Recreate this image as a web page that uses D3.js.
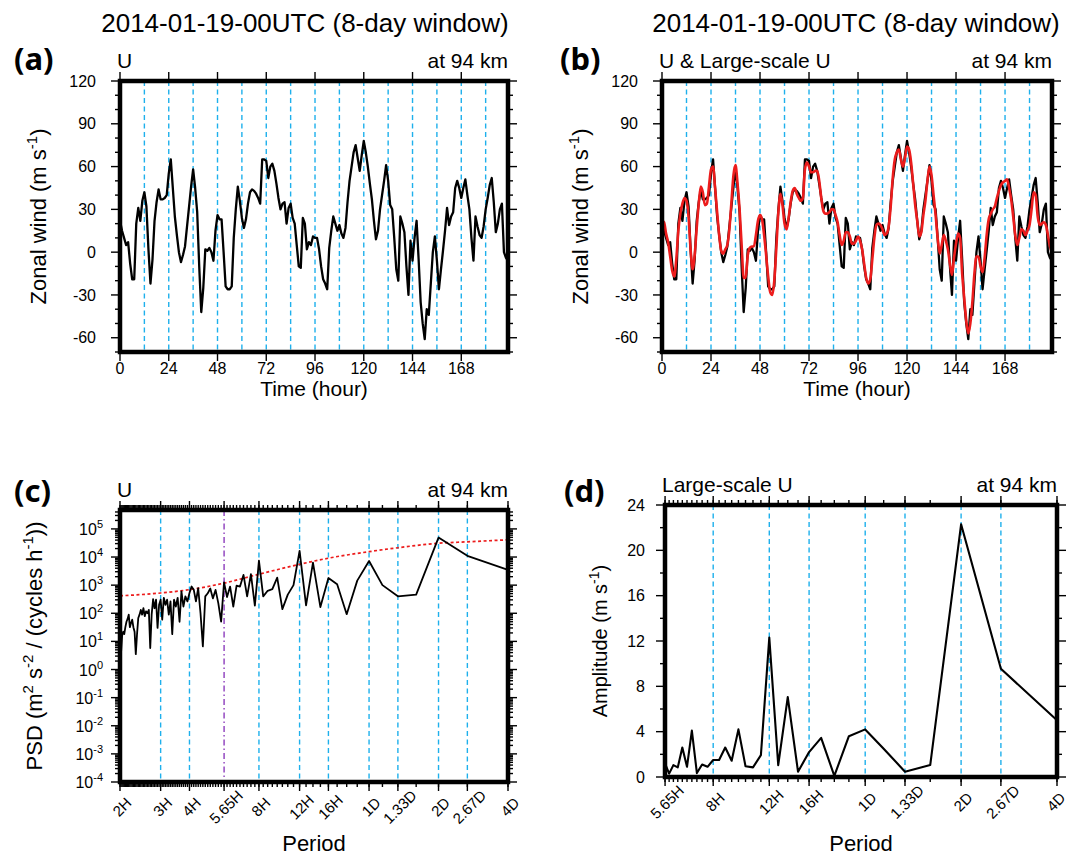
<!DOCTYPE html>
<html>
<head>
<meta charset="utf-8">
<script src="https://cdn.jsdelivr.net/npm/d3@7"></script>
<style>
  body { margin: 0; background: #fff; }
  svg text { font-family: "Liberation Sans", Arial, sans-serif; fill: #000; }
</style>
</head>
<body>
<svg id="chart" width="1070" height="856"></svg>
<script>
// 8日窓 (192時間) の時系列とスペクトル
const WINDOW_HOURS = 192;
const hours = d3.range(WINDOW_HOURS);

// (a)(b) 東西風 U (m/s), 毎時
const uWind = [
  22, 15, 10, 5, 7, -8, -19, -19, 20, 31, 22, 36, 42, 32, 2, -22, -5, 22, 35, 44,
  37, 37, 38, 40, 55, 65, 45, 25, 12, 0, -7, -2, 4, 18, 32, 46, 58, 45, 28, -10,
  -42, -25, 2, 1, 3, 0, -6, 15, 26, 23, 23, 0, -24, -26, -26, -24, 10, 30, 46, 36,
  24, 17, 23, 34, 42, 44, 43, 41, 38, 34, 65, 65, 64, 52, 60, 62, 57, 48, 38, 30,
  34, 35, 20, 31, 34, 24, 20, 5, -10, -11, 24, 20, 2, 7, 5, 11, 10, 10, 2, -10,
  -19, -22, -26, 3, 15, 25, 20, 15, 19, 13, 10, 17, 35, 50, 60, 70, 75, 66, 57, 68,
  78, 70, 60, 48, 37, 22, 9, 15, 30, 40, 50, 61, 50, 33, 30, 10, -12, -20, 25, 20,
  14, -10, -30, 8, -6, 10, 22, -5, -35, -50, -61, -40, -44, -22, 0, 11, -6, -26, -12, 1,
  15, 31, 19, 25, 28, 45, 50, 45, 38, 45, 51, 40, 30, 10, -6, 25, 18, 12, 10, 18,
  30, 38, 47, 52, 35, 14, 20, 30, 34, 0, -4, -6
];

// (b) 大規模成分 U (m/s), 毎時
const uLarge = [
  22, 21, 13, 7, -3, -13, -17, -5, 15, 27, 34, 38, 36, 25, 2, -12, -2, 17, 34, 46,
  42, 33, 34, 46, 58, 60, 45, 28, 12, 1, -1, 2, 5, 16, 35, 54, 61, 48, 30, 5,
  -18, -18, -2, 3, 4, 4, 12, 22, 26, 23, 12, -2, -17, -28, -30, -20, 3, 28, 41, 33,
  20, 16, 24, 35, 43, 45, 41, 38, 36, 38, 58, 63, 60, 56, 56, 57, 57, 50, 38, 29,
  27, 27, 28, 30, 30, 26, 21, 12, 5, 8, 14, 14, 11, 6, 6, 8, 11, 8, 2, -8,
  -18, -22, -19, -5, 10, 19, 20, 19, 16, 12, 13, 18, 32, 52, 65, 70, 72, 65, 60, 66,
  74, 72, 63, 48, 33, 22, 11, 14, 26, 36, 50, 60, 54, 40, 26, 10, -1, 5, 12, 8,
  2, -8, -16, -4, 6, 13, 10, -15, -32, -48, -57, -50, -35, -15, -3, -3, -10, -14, -4, 12,
  23, 27, 30, 32, 38, 43, 47, 49, 50, 51, 45, 37, 25, 12, 5, 10, 16, 15, 12, 15,
  19, 30, 42, 40, 25, 19, 20, 21, 19, 12, 4, 0
];

// (c) U のパワースペクトル, 調和数 k = 2..96 (周期 = 192/k 時間)
const specK = d3.range(2, 97);
const psdU = [
  3.5e3, 1.1e4, 4.9e4, 460, 400, 1.0e3, 7.2e3, 1.45e3, 93, 1.07e3, 1.8e3, 166, 6.3e3, 190, 1.66e4, 1.0e3,
  460, 141, 1.86e3, 720, 630, 400, 7.4e3, 186, 2.45e3, 400, 2.3e3, 890, 955, 174, 890, 380,
  1.26e3, 51, 229, 676, 339, 759, 513, 400, 6.6, 102, 776, 263, 692, 891, 525,
  263, 398, 174, 603, 50, 355, 174, 302, 18, 263, 89, 302, 200, 355, 59, 302,
  200, 30, 302, 151, 316, 89, 5.8, 132, 100, 117, 79, 151, 89, 132, 89, 68,
  18, 3.5, 22, 32, 59, 45, 32, 89, 63, 50, 32, 18, 22, 16, 4, 126
];

// (c) 赤色雑音スペクトル (点線)
const redNoisePeriod = [2, 3, 4, 5.65, 8, 12, 16, 24, 32, 48, 64, 96];
const redNoisePsd = [417, 525, 692, 1.18e3, 2.45e3, 5.5e3, 9.1e3, 1.55e4, 2.14e4, 3.09e4, 3.47e4, 4.1e4];

// (d) 大規模成分の振幅 (m/s), k = 2..34
const ampK = d3.range(2, 35);
const ampLarge = [
  5.0, 9.55, 22.3, 1.05, 0.47, 2.5, 4.2, 3.6, 0.1, 3.45, 2.2, 0.47, 7.05, 1.05, 12.3, 1.93,
  0.85, 0.95, 4.2, 1.43, 2.6, 1.5, 1.5, 0.9, 1.1, 0.35, 4.1, 0.9, 2.6, 0.85, 1.05, 0.3, 1.2
];

// 軸ラベル
const timeTicks = [0, 24, 48, 72, 96, 120, 144, 168];
const windTicks = [-60, -30, 0, 30, 60, 90, 120];
const periodTicksC = [2, 3, 4, 5.65, 8, 12, 16, 24, 32, 48, 64, 96];
const periodLabelsC = ["2H", "3H", "4H", "5.65H", "8H", "12H", "16H", "1D", "1.33D", "2D", "2.67D", "4D"];
const periodTicksD = [5.65, 8, 12, 16, 24, 32, 48, 64, 96];
const periodLabelsD = ["5.65H", "8H", "12H", "16H", "1D", "1.33D", "2D", "2.67D", "4D"];
const psdExponents = [-4, -3, -2, -1, 0, 1, 2, 3, 4, 5];
const ampTicks = [0, 4, 8, 12, 16, 20, 24];
const blueLinesC = [3, 4, 8, 12, 16, 24, 32, 48, 64];
const blueLinesD = [8, 12, 16, 24, 32, 48, 64];
const TITLE = "2014-01-19-00UTC (8-day window)";

// レイアウト
const PANEL = {
    a: { x0: 120, x1: 508, y0: 81, y1: 352 },
    b: { x0: 662, x1: 1052, y0: 81, y1: 352 },
    c: { x0: 120, x1: 508, y0: 510, y1: 782 },
    d: { x0: 665, x1: 1057, y0: 505, y1: 777 }
};
const COLORS = { blue: "#1eb0ec", purple: "#8c3cbc", red: "#ec1c1c", black: "#000" };
const TICK = { MAJOR: 9, MINOR: 5 };
const CHART_WIDTH = 1070;

const svg = d3.select("#chart");

function drawFrame(g, p) {
    g.append("rect")
        .attr("x", p.x0).attr("y", p.y0)
        .attr("width", p.x1 - p.x0).attr("height", p.y1 - p.y0)
        .attr("fill", "none").attr("stroke", "#000").attr("stroke-width", 4.5);
}

// 外向きの目盛りを四辺に
function drawTicks(g, p, xs, ys, xMajor, xMinor, yMajor, yMinor) {
    const t = g.append("g").attr("stroke", "#000").attr("stroke-width", 1.4);
    const xt = xMajor.map(v => [v, TICK.MAJOR]).concat(xMinor.map(v => [v, TICK.MINOR]));
    const yt = yMajor.map(v => [v, TICK.MAJOR]).concat(yMinor.map(v => [v, TICK.MINOR]));
    xt.forEach(([v, len]) => {
        const x = xs(v);
        t.append("line").attr("x1", x).attr("x2", x).attr("y1", p.y1).attr("y2", p.y1 + len);
        t.append("line").attr("x1", x).attr("x2", x).attr("y1", p.y0).attr("y2", p.y0 - len);
    });
    yt.forEach(([v, len]) => {
        const y = ys(v);
        t.append("line").attr("y1", y).attr("y2", y).attr("x1", p.x0).attr("x2", p.x0 - len);
        t.append("line").attr("y1", y).attr("y2", y).attr("x1", p.x1).attr("x2", p.x1 + len);
    });
}

function drawVLines(g, p, xs, values, color, dash) {
    g.append("g").selectAll("line").data(values).join("line")
        .attr("x1", d => xs(d)).attr("x2", d => xs(d))
        .attr("y1", p.y0).attr("y2", p.y1)
        .attr("stroke", color).attr("stroke-width", 1.4)
        .attr("stroke-dasharray", dash);
}

// 上付き文字を含むテキスト
function richText(sel, parts, size) {
    const supSize = Math.round(size * 0.68);
    const shift = Math.round(size * 0.42);
    let raised = false;
    parts.forEach(([s, sup]) => {
        const ts = sel.append("tspan").text(s);
        if (sup && !raised) { ts.attr("dy", -shift).attr("font-size", supSize); raised = true; }
        else if (sup) { ts.attr("font-size", supSize); }
        else if (raised) { ts.attr("dy", shift); raised = false; }
    });
    return sel;
}

function panelHeader(p, letter, left, lx, ly) {
    svg.append("text").attr("x", lx).attr("y", ly)
        .attr("font-size", 31).attr("font-weight", "bold")
        .style("font-family", "'Noto Sans', 'DejaVu Sans', sans-serif")
        .text(letter);
    svg.append("text").attr("x", p.x0 - 3).attr("y", p.y0 - 13)
        .attr("font-size", 21).text(left);
    svg.append("text").attr("x", p.x1).attr("y", p.y0 - 13)
        .attr("font-size", 21).attr("text-anchor", "end").text("at 94 km");
}

function yTitle(x, y, parts, size) {
    const t = svg.append("text")
        .attr("transform", `translate(${x},${y}) rotate(-90)`)
        .attr("text-anchor", "middle").attr("font-size", size);
    richText(t, parts, size);
}

// (a)(b) 時系列パネル
function drawTimePanel(p, letter, header, showLarge, titleX, letterX) {
    const xs = d3.scaleLinear().domain([0, WINDOW_HOURS - 1]).range([p.x0, p.x1]);
    const ys = d3.scaleLinear().domain([-70, 120]).range([p.y1, p.y0]);
    const g = svg.append("g");

    svg.append("text").attr("x", titleX).attr("y", 32)
        .attr("text-anchor", "middle").attr("font-size", 26).text(TITLE);
    panelHeader(p, letter, header, letterX, 70);

    drawVLines(g, p, xs, d3.range(12, 181, 12), COLORS.blue, "5,3.5");

    const line = d3.line().x((d, i) => xs(hours[i])).y(d => ys(d));
    g.append("path").datum(uWind).attr("d", line)
        .attr("fill", "none").attr("stroke", COLORS.black).attr("stroke-width", 2.3)
        .attr("stroke-linejoin", "round");
    if (showLarge) {
        g.append("path").datum(uLarge).attr("d", line.curve(d3.curveMonotoneX))
            .attr("fill", "none").attr("stroke", COLORS.red).attr("stroke-width", 2.6)
            .attr("stroke-linejoin", "round");
    }

    drawFrame(g, p);
    const yMinor = d3.range(-70, 121, 10).filter(v => v % 30 !== 0);
    drawTicks(g, p, xs, ys, timeTicks, [], windTicks, yMinor);

    g.append("g").selectAll("text").data(windTicks).join("text")
        .attr("x", p.x0 - 24).attr("y", d => ys(d)).attr("dy", "0.35em")
        .attr("text-anchor", "end").attr("font-size", 16).text(d => d);
    g.append("g").selectAll("text").data(timeTicks).join("text")
        .attr("x", d => xs(d)).attr("y", p.y1 + 22)
        .attr("text-anchor", "middle").attr("font-size", 16).text(d => d);

    svg.append("text").attr("x", (p.x0 + p.x1) / 2).attr("y", p.y1 + 44)
        .attr("text-anchor", "middle").attr("font-size", 21).text("Time (hour)");
    yTitle(p.x0 - 74, (p.y0 + p.y1) / 2, [["Zonal wind (m s"], ["-1", true], [")"]], 22);
}

function periodLabels(g, p, xs, ticks, labels) {
    // 右端のラベルが画面外に出ないように寄せる
    g.append("g").selectAll("text").data(ticks).join("text")
        .attr("transform", d => `translate(${Math.min(xs(d) + 2, CHART_WIDTH - 14)},${p.y1 + 25}) rotate(-45)`)
        .attr("text-anchor", "middle").attr("dy", "0.35em")
        .attr("font-size", 15).text((d, i) => labels[i]);
    svg.append("text").attr("x", (p.x0 + p.x1) / 2).attr("y", 851)
        .attr("text-anchor", "middle").attr("font-size", 22).text("Period");
}

// (c) パワースペクトル
function drawPsdPanel(p) {
    const xs = d3.scaleLog().domain([2, 96]).range([p.x0, p.x1]);
    const ys = d3.scaleLog().domain([1e-4, 4.7e5]).range([p.y1, p.y0]);
    const g = svg.append("g");
    panelHeader(p, "(c)", "U", 14, 502);

    drawVLines(g, p, xs, blueLinesC, COLORS.blue, "5,3.5");
    drawVLines(g, p, xs, [5.65], COLORS.purple, "6,3,1.5,3");

    g.append("path").datum(redNoisePeriod)
        .attr("d", d3.line().curve(d3.curveMonotoneX)
            .x(d => xs(d)).y((d, i) => ys(redNoisePsd[i])))
        .attr("fill", "none").attr("stroke", COLORS.red).attr("stroke-width", 1.7)
        .attr("stroke-dasharray", "3,2.5");

    g.append("path").datum(psdU)
        .attr("d", d3.line().x((d, i) => xs(WINDOW_HOURS / specK[i])).y(d => ys(d)))
        .attr("fill", "none").attr("stroke", COLORS.black).attr("stroke-width", 1.8)
        .attr("stroke-linejoin", "round");

    drawFrame(g, p);
    const yMajor = psdExponents.map(e => Math.pow(10, e));
    const yMinor = [];
    psdExponents.forEach(e => d3.range(2, 10).forEach(m => {
        const v = m * Math.pow(10, e);
        if (v < 4.7e5) yMinor.push(v);
    }));
    const xMinor = specK.map(k => WINDOW_HOURS / k);
    drawTicks(g, p, xs, ys, periodTicksC, xMinor, yMajor, yMinor);

    const yl = g.append("g").selectAll("text").data(psdExponents).join("text")
        .attr("x", p.x0 - 17).attr("y", d => ys(Math.pow(10, d)) + 6)
        .attr("text-anchor", "end").attr("font-size", 16);
    yl.each(function (d) { richText(d3.select(this), [["10"], [String(d), true]], 16); });

    periodLabels(g, p, xs, periodTicksC, periodLabelsC);
    yTitle(p.x0 - 78, (p.y0 + p.y1) / 2,
        [["PSD (m"], ["2", true], [" s"], ["-2", true], [" / (cycles h"], ["-1", true], ["))"]], 22);
}

// (d) 振幅スペクトル
function drawAmpPanel(p) {
    const xs = d3.scaleLog().domain([WINDOW_HOURS / 34, 96]).range([p.x0, p.x1]);
    const ys = d3.scaleLinear().domain([0, 24]).range([p.y1, p.y0]);
    const g = svg.append("g");
    panelHeader(p, "(d)", "Large-scale U", 564, 502);

    drawVLines(g, p, xs, blueLinesD, COLORS.blue, "5,3.5");

    g.append("path").datum(ampLarge)
        .attr("d", d3.line().x((d, i) => xs(WINDOW_HOURS / ampK[i])).y(d => ys(d)))
        .attr("fill", "none").attr("stroke", COLORS.black).attr("stroke-width", 2.1)
        .attr("stroke-linejoin", "round");

    drawFrame(g, p);
    const yMinor = d3.range(0, 25, 2).filter(v => v % 4 !== 0);
    const xMinor = ampK.map(k => WINDOW_HOURS / k);
    drawTicks(g, p, xs, ys, periodTicksD, xMinor, ampTicks, yMinor);

    g.append("g").selectAll("text").data(ampTicks).join("text")
        .attr("x", p.x0 - 20).attr("y", d => ys(d)).attr("dy", "0.35em")
        .attr("text-anchor", "end").attr("font-size", 16).text(d => d);

    periodLabels(g, p, xs, periodTicksD, periodLabelsD);
    yTitle(p.x0 - 58, (p.y0 + p.y1) / 2, [["Amplitude (m s"], ["-1", true], [")"]], 20);
}

drawTimePanel(PANEL.a, "(a)", "U", false, 305, 14);
drawTimePanel(PANEL.b, "(b)", "U & Large-scale U", true, 856, 560);
drawPsdPanel(PANEL.c);
drawAmpPanel(PANEL.d);
</script>
</body>
</html>
